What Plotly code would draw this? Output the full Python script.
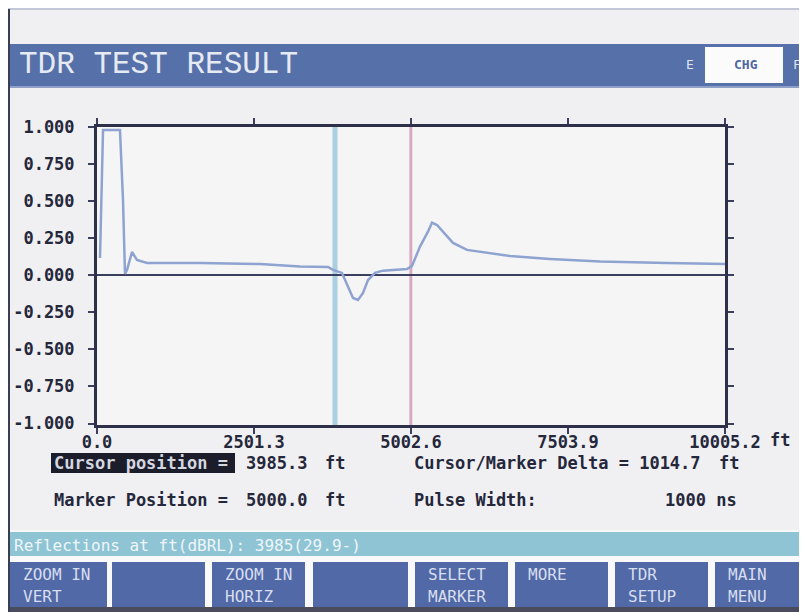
import plotly.graph_objects as go

# ---------------- data ----------------
distance_ft = [48, 96, 366, 414, 446, 478, 558, 637, 797, 1641, 2597, 3234, 3680, 3760,
               3903, 3983, 4079, 4158, 4238, 4318, 4429, 4557, 4939, 5019, 5146, 5273,
               5337, 5417, 5672, 5895, 6213, 6580, 7217, 8014, 9081, 10005]
reflection = [0.117, 0.98, 0.98, 0.51, 0.01, 0.035, 0.157, 0.103, 0.083, 0.083, 0.076,
              0.059, 0.056, 0.036, 0.016, -0.065, -0.153, -0.167, -0.119, -0.032, 0.016,
              0.031, 0.042, 0.063, 0.193, 0.294, 0.355, 0.339, 0.218, 0.171, 0.150,
              0.130, 0.110, 0.092, 0.083, 0.076]

x_tick_vals = [0.0, 2501.3, 5002.6, 7503.9, 10005.2]
x_tick_text = ["0.0", "2501.3", "5002.6", "7503.9", "10005.2"]
y_tick_vals = [1.0, 0.75, 0.5, 0.25, 0.0, -0.25, -0.5, -0.75, -1.0]
y_tick_text = ["1.000", "0.750", "0.500", "0.250", "0.000", "-0.250", "-0.500", "-0.750", "-1.000"]

cursor_line_ft = [3792]
marker_line_ft = [5000.0]

cursor_position = "3985.3"
marker_position = "5000.0"
cursor_marker_delta = "1014.7"
pulse_width = "1000 ns"
reflections_text = "Reflections at ft(dBRL): 3985(29.9-)"

button_line1 = ["ZOOM IN", "", "ZOOM IN", "", "SELECT", "MORE", "TDR", "MAIN"]
button_line2 = ["VERT", "", "HORIZ", "", "MARKER", "", "SETUP", "MENU"]
button_left = [10, 112, 212, 313, 415, 515, 615, 715]
button_right = [107, 205, 305, 408, 508, 608, 708, 807]

# ---------------- helpers ----------------
# the page body has an 8px margin: the figure is drawn from (8, 8) of the window
OFF = 8
W, H = 807 - OFF, 612 - OFF
def px(x):
    return (x - OFF) / W
def py(y):
    return 1 - (y - OFF) / H

MONO = "DejaVu Sans Mono"
DARK = "#25273b"
BLUE = "#5670a9"

fig = go.Figure()
fig.add_trace(go.Scatter(x=distance_ft, y=reflection, mode="lines",
                         line=dict(color="#8ea3d0", width=2.5), hoverinfo="skip",
                         showlegend=False))

shapes = []
annos = []

def rect(x0, y0, x1, y1, color, layer="below"):
    shapes.append(dict(type="rect", xref="paper", yref="paper", x0=px(x0), x1=px(x1),
                       y0=py(y1), y1=py(y0), fillcolor=color, line=dict(width=0), layer=layer))

def text(x, y, s, size=17, color=DARK, bold=True, family=MONO, xanchor="left"):
    annos.append(dict(xref="paper", yref="paper", x=px(x), y=py(y), text=s, showarrow=False,
                      xanchor=xanchor, yanchor="middle",
                      font=dict(family=family, size=size, color=color,
                                weight="bold" if bold else "normal")))

# chrome
rect(8, 8, 807, 10, "#c3c6d6")
rect(8, 9, 10, 612, "#3b3d52")
rect(10, 44, 807, 86, BLUE)
rect(10, 86, 807, 88, "#8fa0c8")
rect(705, 47, 783, 83, "#fbfbfc")
rect(10, 530, 807, 612, "#f9f9fb")
rect(10, 532, 807, 556, "#8ec4d4")
for l, r in zip(button_left, button_right):
    rect(l, 562, r, 607, "#5169a6")
rect(10, 607, 807, 612, "#4a4b5c")
rect(51, 453, 235, 473, "#1c1d2b")

# cursor & marker lines (data coords)
for xc in cursor_line_ft:
    shapes.append(dict(type="line", xref="x", yref="y", x0=xc, x1=xc, y0=-1.01, y1=1.0,
                       line=dict(color="#a9cfe0", width=5), layer="below"))
for xm in marker_line_ft:
    shapes.append(dict(type="line", xref="x", yref="y", x0=xm, x1=xm, y0=-1.01, y1=1.0,
                       line=dict(color="#d8a9c2", width=3), layer="below"))

# texts
text(17, 65, "TDR TEST RESULT", size=31, color="#e6eaf3", bold=False, family="Liberation Mono")
text(690, 65, "E", size=13, color="#dfe4ef", bold=False, xanchor="center")
text(797, 65, "F", size=13, color="#dfe4ef", bold=False, xanchor="center")
text(746, 64, "CHG", size=13, color="#4d66a3", xanchor="center")

text(768, 440, "ft")
text(52, 463, "Cursor position =", color="#d5d7e0")
text(244, 463, cursor_position)
text(323, 463, "ft")
text(52, 500, "Marker Position =")
text(244, 500, marker_position)
text(323, 500, "ft")
text(412, 463, "Cursor/Marker Delta = " + cursor_marker_delta)
text(717, 463, "ft")
text(412, 500, "Pulse Width:")
text(663, 500, pulse_width)

text(12, 545, reflections_text, size=16, color="#eef6f9", bold=False)
for l, t1, t2 in zip(button_left, button_line1, button_line2):
    if t1:
        text(l + 11, 574, t1, size=16, color="#d8def0", bold=False)
    if t2:
        text(l + 11, 596, t2, size=16, color="#d8def0", bold=False)

axis_common = dict(showline=True, linewidth=3, linecolor="#2e3049", mirror="allticks",
                   ticks="outside", ticklen=6, tickwidth=2, tickcolor="#3b3e5e",
                   showgrid=False, automargin=False,
                   tickfont=dict(family=MONO, size=17, color=DARK, weight="bold"))

fig.update_layout(
    width=W, height=H, margin=dict(l=0, r=0, t=0, b=0, pad=0, autoexpand=False),
    paper_bgcolor="#f0f0f2", plot_bgcolor="#f5f5f6",
    shapes=shapes, annotations=annos, showlegend=False,
    xaxis=dict(domain=[px(97), px(725)], range=[0, 10005.2], tickvals=x_tick_vals,
               ticktext=x_tick_text, zeroline=False, ticklabelstandoff=-6, **axis_common),
    yaxis=dict(domain=[py(425), py(127)], range=[-1.01, 1.0], tickvals=y_tick_vals,
               ticktext=y_tick_text, zeroline=True, zerolinecolor="#3b3e5e", zerolinewidth=2,
               ticklabelstandoff=10, **axis_common),
)

fig.write_html("out.html")
